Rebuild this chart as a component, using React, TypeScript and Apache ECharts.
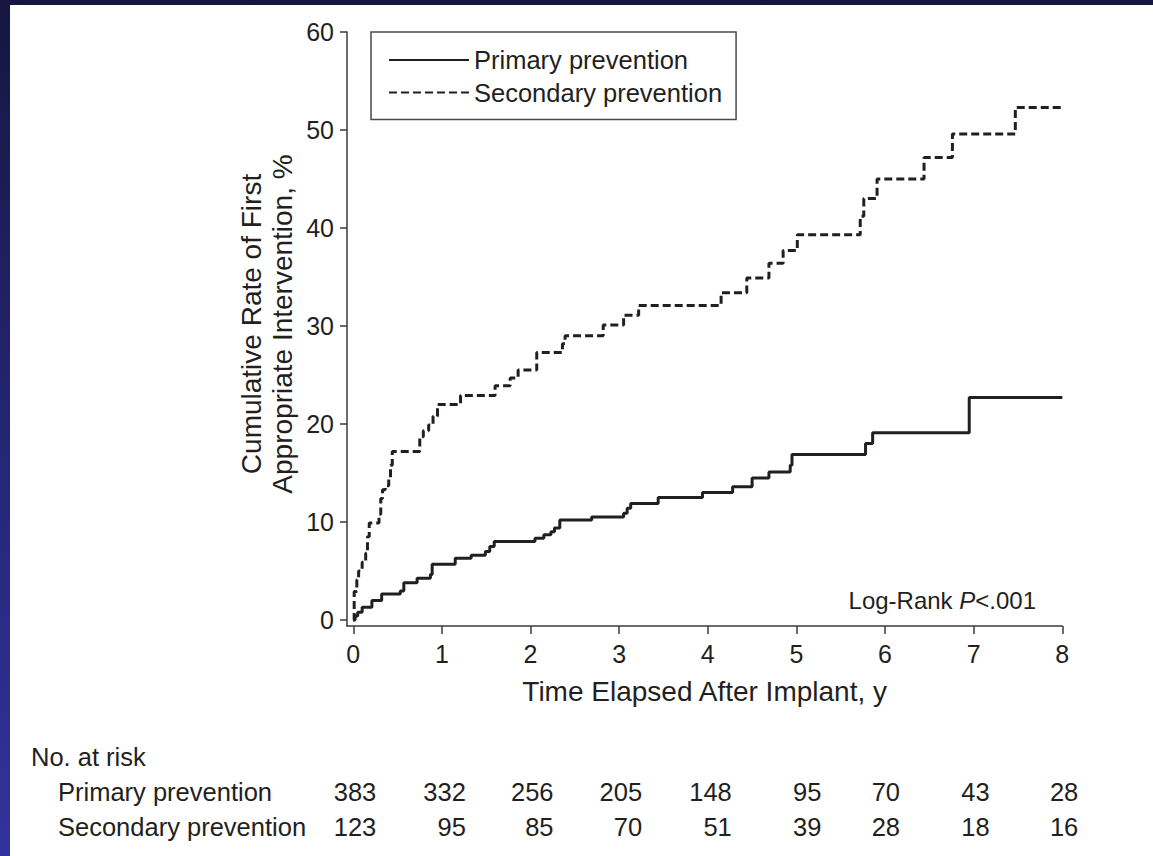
import React, { useEffect, useRef } from "react";
import * as echarts from "echarts";

// ---- data ----
const seriesNames = ["Primary prevention", "Secondary prevention"];

const primaryTimes = [0, 0.02, 0.05, 0.1, 0.21, 0.32, 0.53, 0.57, 0.72, 0.87, 0.89, 1.15, 1.33, 1.49, 1.54, 1.59, 2.05, 2.15, 2.23, 2.27, 2.33, 2.69, 3.05, 3.09, 3.13, 3.44, 3.94, 4.28, 4.5, 4.69, 4.93, 4.95, 5.78, 5.86, 6.95, 8.0];
const primaryRates = [0, 0.4, 0.8, 1.3, 2.0, 2.65, 2.95, 3.8, 4.25, 4.65, 5.7, 6.3, 6.6, 7.0, 7.5, 8.0, 8.35, 8.7, 9.0, 9.4, 10.2, 10.5, 10.9, 11.4, 11.9, 12.5, 13.0, 13.6, 14.5, 15.1, 15.8, 16.9, 18.0, 19.1, 22.7, 22.7];

const secondaryTimes = [0, 0.01, 0.04, 0.06, 0.1, 0.14, 0.16, 0.18, 0.29, 0.31, 0.33, 0.36, 0.4, 0.42, 0.44, 0.75, 0.79, 0.85, 0.9, 0.95, 1.21, 1.6, 1.77, 1.86, 2.07, 2.36, 2.39, 2.82, 3.05, 3.22, 4.15, 4.44, 4.69, 4.85, 5.01, 5.72, 5.76, 5.91, 6.44, 6.76, 7.47, 8.0];
const secondaryRates = [0, 2.9, 4.1, 5.0, 5.9, 6.8, 8.5, 9.9, 10.8, 12.4, 13.3, 13.7, 14.5, 15.8, 17.2, 18.7, 19.3, 19.9, 20.8, 22.0, 22.9, 23.9, 24.7, 25.5, 27.3, 28.2, 29.0, 30.1, 31.1, 32.1, 33.4, 34.9, 36.4, 37.7, 39.3, 41.2, 43.0, 45.0, 47.2, 49.6, 52.3, 52.3];

const xTicks = [0, 1, 2, 3, 4, 5, 6, 7, 8];
const yTicks = [0, 10, 20, 30, 40, 50, 60];

const atRiskTitle = "No. at risk";
const atRiskPrimary = [383, 332, 256, 205, 148, 95, 70, 43, 28];
const atRiskSecondary = [123, 95, 85, 70, 51, 39, 28, 18, 16];

const xAxisTitle = "Time Elapsed After Implant, y";
const yAxisTitle = "Cumulative Rate of First\nAppropriate Intervention, %";

// ---- style / layout ----
const FONT = '"Liberation Sans", Arial, Helvetica, sans-serif';
const INK = "#231f20";
const AXIS = "#3a3a3a";
const FS_TEXT = 25.5;
const FS_TICK = 25;
const FS_TITLE = 28;
const FS_NOTE = 24;
const colRightOffsets = [22, 23, 22, 22, 23, 24, 14, 15, 15];

export default function App() {
  const ref = useRef<HTMLDivElement>(null);

  useEffect(() => {
    if (!ref.current) return;
    const chart = echarts.init(ref.current, undefined, { renderer: "svg" });

    const txt = (size: number, extra: any) => ({
      fill: INK,
      fontSize: size,
      fontFamily: FONT,
      ...extra,
    });

    chart.setOption({
      animation: false,
      backgroundColor: "transparent",
      textStyle: { fontFamily: FONT },
      grid: { left: 347, top: 32, right: 90.7, bottom: 230, containLabel: false },
      legend: {
        orient: "vertical",
        left: 371,
        top: 32,
        data: seriesNames,
        selectedMode: false,
        itemWidth: 80,
        itemHeight: 14,
        itemGap: 6.5,
        padding: [15, 14, 14, 17],
        borderColor: "#4a4a4a",
        borderWidth: 1.5,
        itemStyle: { opacity: 0 },
        textStyle: { fontSize: FS_TEXT, color: INK, fontFamily: FONT },
      },
      xAxis: {
        type: "value",
        min: -0.071,
        max: 8,
        name: xAxisTitle,
        nameLocation: "middle",
        nameGap: 51,
        nameTextStyle: { fontSize: FS_TITLE, color: INK, fontFamily: FONT },
        axisLine: { show: true, onZero: false, lineStyle: { color: AXIS, width: 1.5 } },
        axisTick: { show: true, length: 8, customValues: xTicks, lineStyle: { color: AXIS, width: 1.5 } },
        axisLabel: { customValues: xTicks, fontSize: FS_TICK, color: INK, fontFamily: FONT, margin: 15 },
        splitLine: { show: false },
      },
      yAxis: {
        type: "value",
        min: -0.612,
        max: 60,
        axisLine: { show: true, onZero: false, lineStyle: { color: AXIS, width: 1.5 } },
        axisTick: { show: true, length: 7, customValues: yTicks, lineStyle: { color: AXIS, width: 1.5 } },
        axisLabel: { customValues: yTicks, fontSize: FS_TICK, color: INK, fontFamily: FONT, margin: 13 },
        splitLine: { show: false },
      },
      series: [
        {
          name: seriesNames[0],
          type: "line",
          step: "end",
          symbol: "none",
          showSymbol: false,
          silent: true,
          data: primaryTimes.map((t, i) => [t, primaryRates[i]]),
          lineStyle: { color: INK, width: 3, type: "solid" },
          itemStyle: { color: INK },
        },
        {
          name: seriesNames[1],
          type: "line",
          step: "end",
          symbol: "none",
          showSymbol: false,
          silent: true,
          data: secondaryTimes.map((t, i) => [t, secondaryRates[i]]),
          lineStyle: { color: INK, width: 3, type: [8, 4] },
          itemStyle: { color: INK },
        },
      ],
    });

    const px = (t: number) => chart.convertToPixel({ xAxisIndex: 0 }, t) as number;
    const mid = { verticalAlign: "middle", textVerticalAlign: "middle" };

    const graphics: any[] = [
      {
        type: "text",
        x: 267,
        y: 324,
        rotation: Math.PI / 2,
        style: txt(FS_TITLE, {
          text: yAxisTitle,
          align: "center",
          textAlign: "center",
          lineHeight: 31,
          ...mid,
        }),
      },
      {
        type: "text",
        x: 1036,
        y: 600,
        style: txt(FS_NOTE, {
          text: "{a|Log-Rank }{b|P}{a|<.001}",
          align: "right",
          textAlign: "right",
          ...mid,
          rich: {
            a: { fontSize: FS_NOTE, fontFamily: FONT, fill: INK, color: INK },
            b: { fontSize: FS_NOTE, fontFamily: FONT, fill: INK, color: INK, fontStyle: "italic" },
          },
        }),
      },
      {
        type: "text",
        x: 31,
        y: 757,
        style: txt(FS_TEXT, { text: atRiskTitle, align: "left", textAlign: "left", ...mid }),
      },
      {
        type: "text",
        x: 58,
        y: 792,
        style: txt(FS_TEXT, { text: seriesNames[0], align: "left", textAlign: "left", ...mid }),
      },
      {
        type: "text",
        x: 58,
        y: 827,
        style: txt(FS_TEXT, { text: seriesNames[1], align: "left", textAlign: "left", ...mid }),
      },
    ];

    xTicks.forEach((t, i) => {
      const x = px(t) + colRightOffsets[i] + 1;
      graphics.push({
        type: "text",
        x,
        y: 792,
        style: txt(FS_TEXT, { text: String(atRiskPrimary[i]), align: "right", textAlign: "right", ...mid }),
      });
      graphics.push({
        type: "text",
        x,
        y: 827,
        style: txt(FS_TEXT, { text: String(atRiskSecondary[i]), align: "right", textAlign: "right", ...mid }),
      });
    });

    chart.setOption({ graphic: graphics });

    return () => chart.dispose();
  }, []);

  return (
    <div
      style={{
        position: "fixed",
        left: 0,
        top: 0,
        width: 1153,
        height: 856,
        background: "linear-gradient(to bottom, #161640 0%, #23246e 45%, #31339c 100%)",
        overflow: "hidden",
      }}
    >
      <div style={{ position: "absolute", left: 10, top: 5, right: 0, bottom: 0, background: "#ffffff" }} />
      <div ref={ref} style={{ position: "absolute", left: 0, top: 0, width: 1153, height: 856 }} />
    </div>
  );
}
